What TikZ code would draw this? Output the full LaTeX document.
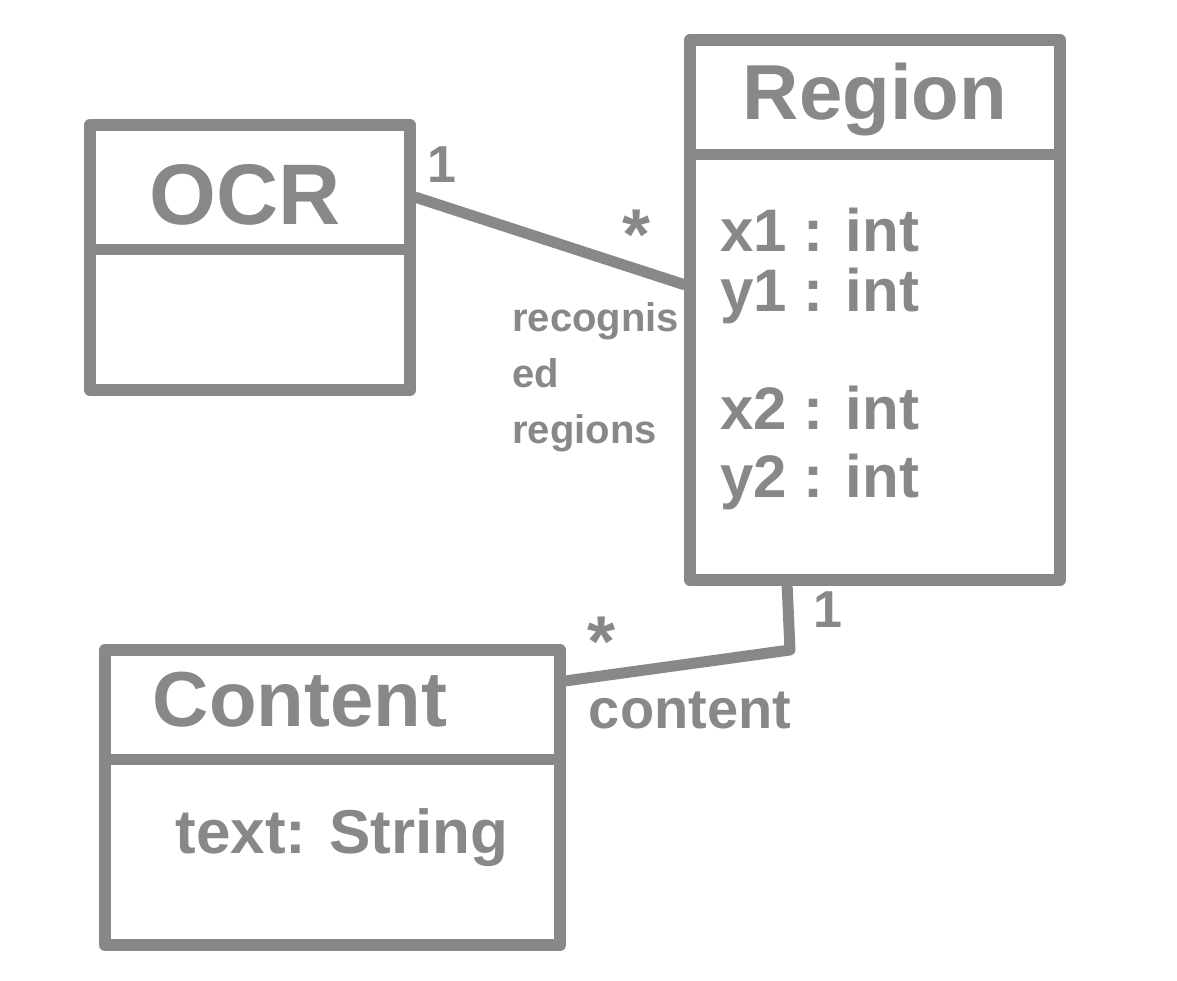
\documentclass[tikz,border=0pt]{standalone}
\usepackage{fontspec}
\setmainfont{Liberation Sans}
\usetikzlibrary{calc}
\definecolor{ink}{RGB}{136,136,136}
\begin{document}
\begin{tikzpicture}[x=1pt,y=-1pt,
  box/.style={draw=ink,line width=12pt,inner sep=0pt,line join=round},
  conn/.style={draw=ink,line width=11pt,line join=round,line cap=round},
  divider/.style={draw=ink,line width=11pt,line cap=butt},
  lbl/.style={text=ink,inner sep=0pt},
  fs/.style={font=\fontsize{#1}{#1}\selectfont\bfseries}
]
\path[use as bounding box, fill=white] (0,0) rectangle (1177,980);
% boxes
\node[box,minimum width=320pt,minimum height=265pt] (ocr) at (250,257.5) {};
\node[box,minimum width=370pt,minimum height=540pt] (region) at (875,310) {};
\node[box,minimum width=455pt,minimum height=295pt] (content) at (332.5,797.5) {};
% dividers
\draw[divider] ($(ocr.north west)+(0,130)$) -- ($(ocr.north east)+(0,130)$);
\draw[divider] ($(region.north west)+(0,120)$) -- ($(region.north east)+(0,120)$);
\draw[divider] ($(content.north west)+(0,115)$) -- ($(content.north east)+(0,115)$);
% titles
\node[lbl,fs=86] (tocr) at (245,195) {OCR};
\node[lbl,fs=78] (treg) at (875,100) {Region};
\node[lbl,fs=78] (tcon) at (300,700) {Content};
% attributes
\node[lbl,fs=60,anchor=west] (a1) at (720,230) {x1 : int};
\node[lbl,fs=60,anchor=west] (a2) at (720,296) {y1 : int};
\node[lbl,fs=60,anchor=west] (a3) at (720,408) {x2 : int};
\node[lbl,fs=60,anchor=west] (a4) at (720,482) {y2 : int};
\node[lbl,fs=62] (a5) at (342,838) {text: String};
% connectors
\coordinate (o1) at ($(ocr.north east)!0.283!(ocr.south east)$);
\coordinate (r1) at ($(region.north west)!0.454!(region.south west)$);
\draw[conn] (o1) -- (r1);
\coordinate (r2) at ($(region.south west)!0.27!(region.south east)$);
\coordinate (bend) at (790,650);
\coordinate (c2) at ($(content.north east)!0.12!(content.south east)$);
\draw[conn] (r2) -- (bend) -- (c2);
% connector labels
\node[lbl,fs=52] (m1) at (442,165) {1};
\node[lbl,fs=72] (m2) at (637,235) {*};
\node[lbl,fs=40,align=left,anchor=north west] (role1) at (512,302) {recognis\\[16pt]ed\\[16pt]regions};
\node[lbl,fs=52] (m3) at (828,610) {1};
\node[lbl,fs=72] (m4) at (602,642) {*};
\node[lbl,fs=56] (role2) at (690,710) {content};
\end{tikzpicture}
\end{document}
